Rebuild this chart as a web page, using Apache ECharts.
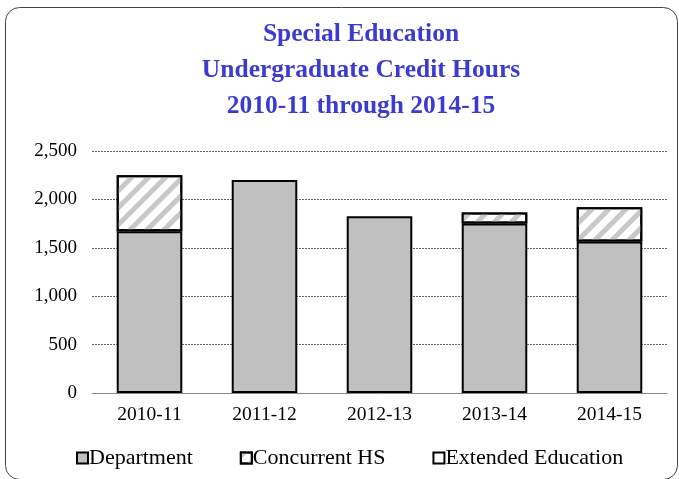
<!DOCTYPE html>
<html>
<head>
<meta charset="utf-8">
<script src="https://cdn.jsdelivr.net/npm/echarts@6/dist/echarts.min.js"></script>
<style>
  html, body { margin: 0; padding: 0; background: #fff; }
  #main { width: 679px; height: 479px; }
</style>
</head>
<body>
<div id="main"></div>
<script>
// academic years
const years = ['2010-11', '2011-12', '2012-13', '2013-14', '2014-15'];
// credit hours by source
const department = [1670, 2200, 1825, 1750, 1565];
const concurrentHS = [580, 0, 0, 115, 355];
const extendedEd = [0, 0, 0, 0, 0];
const yTicks = [0, 500, 1000, 1500, 2000, 2500];

const font = '"Liberation Serif", "Times New Roman", serif';

const hatch = {
    symbol: 'rect',
    symbolSize: 1,
    color: '#C8C8C8',
    dashArrayX: [1, 0],
    dashArrayY: [5, 7],
    rotation: -Math.PI / 4
};

let myChart = echarts.init(document.getElementById('main'));
myChart.setOption({
    animation: false,
    backgroundColor: '#fff',
    textStyle: { fontFamily: font },
    title: {
        text: 'Special Education\nUndergraduate Credit Hours\n2010-11 through 2014-15',
        left: 356,
        textAlign: 'center',
        top: 11,
        textStyle: {
            fontFamily: font,
            fontSize: 25.5,
            fontWeight: 'bold',
            color: '#3B3BCF',
            lineHeight: 36
        }
    },
    graphic: [{
        type: 'rect',
        shape: { x: 5.5, y: 7.5, width: 672, height: 472, r: 14 },
        style: { fill: 'none', stroke: '#444', lineWidth: 1 },
        silent: true
    }],
    legend: {
        bottom: 10,
        left: 76,
        padding: 0,
        icon: 'rect',
        itemWidth: 11,
        itemHeight: 11,
        itemGap: 47,
        textStyle: { fontFamily: font, fontSize: 22, color: '#000', padding: [0, 0, 0, -4] },
        data: ['Department', 'Concurrent HS', 'Extended Education']
    },
    grid: { left: 92, right: 12, top: 151, bottom: 86 },
    xAxis: {
        type: 'category',
        data: years,
        axisLine: { lineStyle: { color: '#888', width: 1 } },
        axisTick: { show: false },
        axisLabel: { fontFamily: font, fontSize: 19.5, color: '#000', margin: 12 }
    },
    yAxis: {
        type: 'value',
        min: yTicks[0],
        max: yTicks[yTicks.length - 1],
        interval: 500,
        axisLine: { show: false },
        axisTick: { show: false },
        axisLabel: {
            fontFamily: font, fontSize: 19, color: '#000', margin: 15,
            formatter: v => v.toLocaleString('en-US')
        },
        splitLine: { lineStyle: { color: '#666', type: [2, 1], width: 1 } }
    },
    series: [{
        name: 'Department',
        type: 'bar',
        stack: 'total',
        data: department,
        barWidth: '57%',
        itemStyle: { color: '#C0C0C0', borderColor: '#000', borderWidth: 2 }
    }, {
        name: 'Concurrent HS',
        type: 'bar',
        stack: 'total',
        data: concurrentHS.map(v => v || null),
        itemStyle: {
            color: '#fff',
            borderColor: '#000',
            borderWidth: 2,
            decal: hatch
        }
    }, {
        name: 'Extended Education',
        type: 'bar',
        stack: 'total',
        data: extendedEd.map(v => v || null),
        itemStyle: { color: '#fff', borderColor: '#000', borderWidth: 2 }
    }]
});
</script>
</body>
</html>
